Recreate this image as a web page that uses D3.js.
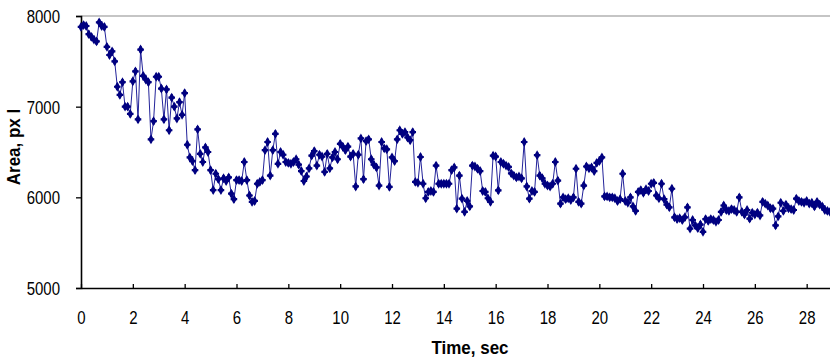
<!DOCTYPE html>
<html>
<head>
<meta charset="utf-8">
<script src="https://cdn.jsdelivr.net/npm/d3@7"></script>
<style>
  body { margin: 0; background: #fff; }
  svg { display: block; font-family: "Liberation Sans", Arial, sans-serif; }
</style>
</head>
<body>
<div id="chart"></div>
<script>
// sample times (sec), 0.1 s apart
const time = [
  0.0, 0.1, 0.2, 0.3, 0.4, 0.5, 0.6, 0.7, 0.8, 0.9,
  1.0, 1.1, 1.2, 1.3, 1.4, 1.5, 1.6, 1.7, 1.8, 1.9,
  2.0, 2.1, 2.2, 2.3, 2.4, 2.5, 2.6, 2.7, 2.8, 2.9,
  3.0, 3.1, 3.2, 3.3, 3.4, 3.5, 3.6, 3.7, 3.8, 3.9,
  4.0, 4.1, 4.2, 4.3, 4.4, 4.5, 4.6, 4.7, 4.8, 4.9,
  5.0, 5.1, 5.2, 5.3, 5.4, 5.5, 5.6, 5.7, 5.8, 5.9,
  6.0, 6.1, 6.2, 6.3, 6.4, 6.5, 6.6, 6.7, 6.8, 6.9,
  7.0, 7.1, 7.2, 7.3, 7.4, 7.5, 7.6, 7.7, 7.8, 7.9,
  8.0, 8.1, 8.2, 8.3, 8.4, 8.5, 8.6, 8.7, 8.8, 8.9,
  9.0, 9.1, 9.2, 9.3, 9.4, 9.5, 9.6, 9.7, 9.8, 9.9,
  10.0, 10.1, 10.2, 10.3, 10.4, 10.5, 10.6, 10.7, 10.8, 10.9,
  11.0, 11.1, 11.2, 11.3, 11.4, 11.5, 11.6, 11.7, 11.8, 11.9,
  12.0, 12.1, 12.2, 12.3, 12.4, 12.5, 12.6, 12.7, 12.8, 12.9,
  13.0, 13.1, 13.2, 13.3, 13.4, 13.5, 13.6, 13.7, 13.8, 13.9,
  14.0, 14.1, 14.2, 14.3, 14.4, 14.5, 14.6, 14.7, 14.8, 14.9,
  15.0, 15.1, 15.2, 15.3, 15.4, 15.5, 15.6, 15.7, 15.8, 15.9,
  16.0, 16.1, 16.2, 16.3, 16.4, 16.5, 16.6, 16.7, 16.8, 16.9,
  17.0, 17.1, 17.2, 17.3, 17.4, 17.5, 17.6, 17.7, 17.8, 17.9,
  18.0, 18.1, 18.2, 18.3, 18.4, 18.5, 18.6, 18.7, 18.8, 18.9,
  19.0, 19.1, 19.2, 19.3, 19.4, 19.5, 19.6, 19.7, 19.8, 19.9,
  20.0, 20.1, 20.2, 20.3, 20.4, 20.5, 20.6, 20.7, 20.8, 20.9,
  21.0, 21.1, 21.2, 21.3, 21.4, 21.5, 21.6, 21.7, 21.8, 21.9,
  22.0, 22.1, 22.2, 22.3, 22.4, 22.5, 22.6, 22.7, 22.8, 22.9,
  23.0, 23.1, 23.2, 23.3, 23.4, 23.5, 23.6, 23.7, 23.8, 23.9,
  24.0, 24.1, 24.2, 24.3, 24.4, 24.5, 24.6, 24.7, 24.8, 24.9,
  25.0, 25.1, 25.2, 25.3, 25.4, 25.5, 25.6, 25.7, 25.8, 25.9,
  26.0, 26.1, 26.2, 26.3, 26.4, 26.5, 26.6, 26.7, 26.8, 26.9,
  27.0, 27.1, 27.2, 27.3, 27.4, 27.5, 27.6, 27.7, 27.8, 27.9,
  28.0, 28.1, 28.2, 28.3, 28.4, 28.5, 28.6, 28.7, 28.8, 28.9
];

// area in pixels
const area = [
  7880, 7900, 7890, 7800, 7770, 7740, 7720, 7930, 7890, 7880,
  7660, 7570, 7610, 7500, 7220, 7130, 7270, 7000, 7000, 6920,
  7280, 7390, 6860, 7630, 7340, 7300, 7270, 6640, 6840, 7330,
  7330, 7200, 6860, 7190, 6740, 7100, 7000, 6870, 7050, 6910,
  7150, 6580, 6440, 6400, 6300, 6750, 6480, 6390, 6550, 6500,
  6300, 6080, 6260, 6200, 6080, 6210, 6180, 6220, 6040, 5980,
  6190, 6190, 6180, 6390, 6190, 6020, 5950, 5960, 6150, 6170,
  6190, 6520, 6610, 6240, 6520, 6700, 6370, 6500, 6470, 6390,
  6380, 6370, 6390, 6420, 6360, 6290, 6180, 6230, 6320, 6460,
  6510, 6350, 6470, 6450, 6280, 6480, 6320, 6440, 6500, 6420,
  6590, 6560, 6520, 6560, 6450, 6480, 6120, 6470, 6650, 6200,
  6620, 6640, 6420, 6360, 6330, 6130, 6610, 6540, 6530, 6115,
  6440, 6400, 6640, 6740, 6700, 6720, 6660, 6630, 6720, 6170,
  6160, 6445, 6150, 5990, 6060, 6070, 6060, 6350, 6150, 6150,
  6150, 6150, 6150, 6300, 6330, 5875, 6240, 5985, 5840, 5960,
  5900, 6350, 6340, 6315, 6290, 6070, 6060, 5990, 5950, 6460,
  6450, 6077, 6390, 6370, 6350, 6335, 6265, 6240, 6220, 6230,
  6210, 6610, 6120, 5985, 6070, 6060, 6465, 6240, 6210, 6150,
  6130, 6120, 6150, 6390, 6185, 5930, 6000, 5980, 5990, 5970,
  6000, 6315, 5950, 5930, 6130, 6340, 6320, 6330, 6290, 6380,
  6400, 6440, 6010, 6010, 6000, 6000, 5990, 5960, 5980, 6260,
  5960, 5940, 6000, 5900, 5850, 6060, 6080, 6050, 6090, 6070,
  6150, 6160, 6020, 5990, 6150, 5980, 5920, 5890, 6095, 5780,
  5760, 5770, 5750, 5780, 5890, 5655, 5750, 5690, 5660, 5700,
  5620, 5760, 5740, 5760, 5750, 5730, 5750, 5840, 5910, 5860,
  5850, 5870, 5860, 5840, 6000, 5840, 5810, 5860, 5765, 5830,
  5810, 5830, 5800, 5950, 5930, 5910, 5880, 5875, 5690, 5790,
  5940, 5850, 5920, 5880, 5870, 5860, 5985, 5960, 5950, 5940,
  5960, 5930, 5940, 5900, 5950, 5920, 5900, 5860, 5850, 5840
];

const xTicks = [0, 2, 4, 6, 8, 10, 12, 14, 16, 18, 20, 22, 24, 26, 28];
const yTicks = [5000, 6000, 7000, 8000];

const width = 830, height = 359;
const margin = { top: 16, right: 0, bottom: 71, left: 81 };

const svg = d3.select('#chart')
  .append('svg')
  .attr('width', width)
  .attr('height', height);

const x = d3.scaleLinear()
  .domain([0, 28.9])
  .range([margin.left, width - margin.right]);

const y = d3.scaleLinear()
  .domain([5000, 8000])
  .range([height - margin.bottom, margin.top]);

// gray frame line at the top of the plot area
svg.append('line')
  .attr('x1', x(0)).attr('x2', width)
  .attr('y1', y(8000)).attr('y2', y(8000))
  .attr('stroke', '#8c8c8c')
  .attr('stroke-width', 1.2);

const yAxis = svg.append('g')
  .attr('transform', 'translate(' + margin.left + ',0)')
  .call(d3.axisLeft(y).tickValues(yTicks).tickSizeOuter(0).tickSize(5).tickPadding(16).tickFormat(d3.format('d')));

yAxis.selectAll('text')
  .attr('dy', '0.36em')
  .attr('transform', 'scale(1,1.2)')
  .style('font-size', '15px')
  .attr('fill', '#000');

const xAxis = svg.append('g')
  .attr('transform', 'translate(0,' + y(5000) + ')')
  .call(d3.axisBottom(x).tickValues(xTicks).tickSizeOuter(0).tickSizeInner(-4));

xAxis.selectAll('text')
  .attr('y', 0)
  .attr('dy', 0)
  .attr('transform', 'translate(0,35.5) scale(1,1.2)')
  .style('font-size', '15px')
  .attr('fill', '#000');

svg.selectAll('.domain').attr('stroke', '#000').attr('stroke-width', 1.6);
svg.selectAll('.tick line').attr('stroke', '#000').attr('stroke-width', 1.3);

// axis titles
svg.append('text')
  .attr('transform', 'translate(470,354) scale(1,1.12)')
  .attr('text-anchor', 'middle')
  .style('font-size', '17px')
  .style('font-weight', 'bold')
  .text('Time, sec');

svg.append('text')
  .attr('transform', 'translate(20,147) rotate(-90) scale(1,1.1)')
  .attr('text-anchor', 'middle')
  .style('font-size', '17px')
  .style('font-weight', 'bold')
  .text('Area, px l');

const points = time.map((t, i) => ({ t: t, v: area[i] }));

const line = d3.line()
  .x(d => x(d.t))
  .y(d => y(d.v));

svg.append('path')
  .datum(points)
  .attr('d', line)
  .attr('fill', 'none')
  .attr('stroke', '#23239a')
  .attr('stroke-width', 1);

const diamond = d3.symbol().type(d3.symbolDiamond).size(28);
const cross = d3.symbol().type(d3.symbolCross).size(24);

const marks = svg.append('g').attr('fill', '#000080');

marks.selectAll('path.dia')
  .data(points)
  .enter()
  .append('path')
  .attr('class', 'dia')
  .attr('d', diamond)
  .attr('transform', d => 'translate(' + x(d.t) + ',' + y(d.v) + ')');

marks.selectAll('path.crs')
  .data(points)
  .enter()
  .append('path')
  .attr('class', 'crs')
  .attr('d', cross)
  .attr('transform', d => 'translate(' + x(d.t) + ',' + y(d.v) + ')');
</script>
</body>
</html>
